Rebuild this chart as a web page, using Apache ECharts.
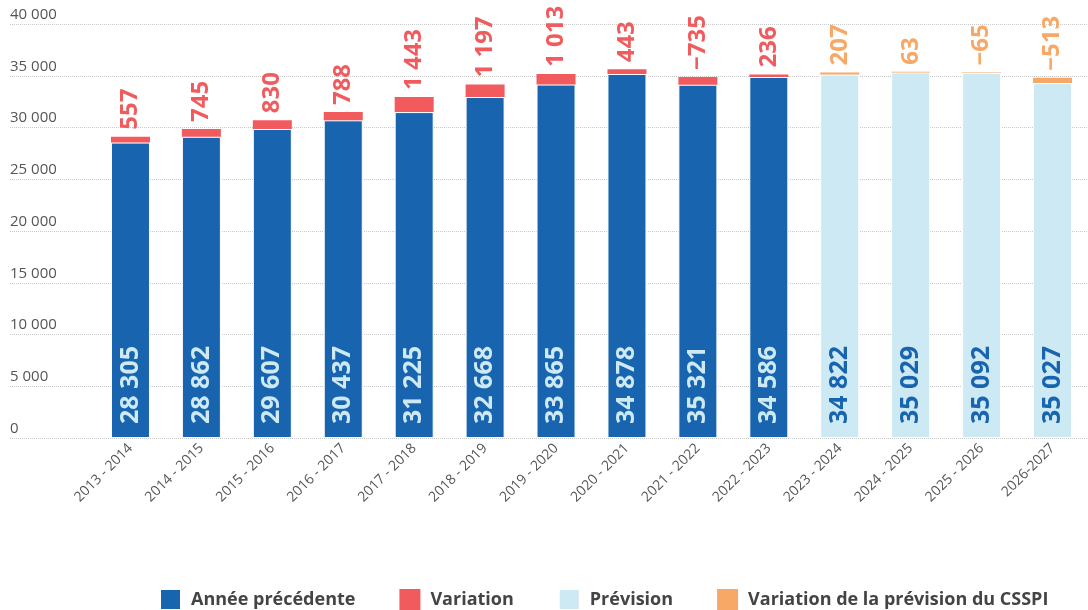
<!DOCTYPE html>
<html>
<head>
<meta charset="utf-8">
<script src="https://cdn.jsdelivr.net/npm/echarts@6/dist/echarts.min.js"></script>
<style>
html,body{margin:0;padding:0;background:#fff;}
#chart{width:1088px;height:610px;}
</style>
</head>
<body>
<div id="chart"></div>
<script>
var categories = ['2013 - 2014','2014 - 2015','2015 - 2016','2016 - 2017','2017 - 2018','2018 - 2019','2019 - 2020','2020 - 2021','2021 - 2022','2022 - 2023','2023 - 2024','2024 - 2025','2025 - 2026','2026-2027'];
var previousYear = [28305, 28862, 29607, 30437, 31225, 32668, 33865, 34878, 35321, 34586, 34822, 35029, 35092, 35027];
var variation = [557, 745, 830, 788, 1443, 1197, 1013, 443, -735, 236, 207, 63, -65, -513];
var isForecast = [false,false,false,false,false,false,false,false,false,false,true,true,true,true];
var yTicks = [0, 5000, 10000, 15000, 20000, 25000, 30000, 35000, 40000];

var C_DARK = '#1864af', C_RED = '#f15b5e', C_LIGHT = '#cce9f4', C_ORANGE = '#f7a867';
var BOLD_FONT = "'Open Sans', sans-serif";
var REG_FONT = "'Open Sans', sans-serif";

function fmt(v){
  var s = String(Math.abs(v)).replace(/\B(?=(\d{3})+(?!\d))/g, ' ');
  return (v < 0 ? '\u2212' : '') + s;
}

// drawn heights: top of bar = new value, variation segment = |variation|
var baseHist = [], varHist = [], baseFc = [], varFc = [];
for (var i = 0; i < categories.length; i++) {
  var nv = previousYear[i] + variation[i];
  var b = nv - Math.abs(variation[i]);
  var v = Math.abs(variation[i]);
  if (isForecast[i]) { baseHist.push('-'); varHist.push('-'); baseFc.push(b); varFc.push(v); }
  else { baseHist.push(b); varHist.push(v); baseFc.push('-'); varFc.push('-'); }
}

var insideLabel = function(color){
  return {
    show: true, position: 'insideBottom', rotate: 90, align: 'left', verticalAlign: 'middle',
    distance: 14, color: color, fontFamily: BOLD_FONT, fontWeight: 'bold', fontSize: 25,
    formatter: function(p){ return fmt(previousYear[p.dataIndex]); }
  };
};
var topLabel = function(color){
  return {
    show: true, position: 'top', rotate: 90, align: 'left', verticalAlign: 'middle',
    distance: 7, color: color, fontFamily: BOLD_FONT, fontWeight: 'bold', fontSize: 24,
    formatter: function(p){ return fmt(variation[p.dataIndex]); }
  };
};

var chart = echarts.init(document.getElementById('chart'), null, {renderer: 'canvas'});
chart.setOption({
  animation: false,
  backgroundColor: '#fff',
  grid: [
    {left: 10, right: 0, top: 24, bottom: 172},
    {left: 95, width: 999, top: 20.5, bottom: 172}
  ],
  xAxis: [
    {gridIndex: 0, type: 'value', show: false, min: 0, max: 1},
    {gridIndex: 1, type: 'category', data: categories,
     axisLine: {show: false}, axisTick: {show: false},
     axisLabel: {rotate: 45, margin: 8, fontSize: 14, color: '#555', fontFamily: REG_FONT, interval: 0}}
  ],
  yAxis: [
    {gridIndex: 0, type: 'value', min: 0, max: 40000, interval: 5000,
     axisLine: {show: false}, axisTick: {show: false},
     splitLine: {show: true, lineStyle: {type: 'dotted', color: '#c8c8c8', width: 1}},
     axisLabel: {inside: true, margin: 0, align: 'left', verticalAlign: 'bottom', padding: [0,0,2,0],
       fontSize: 15, color: '#555', fontFamily: REG_FONT,
       formatter: function(v){ return yTicks.indexOf(v) >= 0 ? fmt(v) : ''; }}},
    {gridIndex: 1, type: 'value', min: 0, max: 40000, interval: 5000, show: false,
     splitLine: {show: false}}
  ],
  legend: {
    left: 159, top: 588, padding: 0, itemWidth: 21, itemHeight: 21, itemGap: 44, icon: 'rect',
    textStyle: {fontSize: 18, fontWeight: 'bold', color: '#444', fontFamily: BOLD_FONT, padding: [0,0,0,5]},
    data: ['Année précédente', 'Variation', 'Prévision', 'Variation de la prévision du CSSPI']
  },
  series: [
    {name: 'Année précédente', type: 'bar', xAxisIndex: 1, yAxisIndex: 1, stack: 's', barWidth: '55%',
     data: baseHist, itemStyle: {color: C_DARK, borderColor: '#fff', borderWidth: 1}, label: insideLabel(C_LIGHT)},
    {name: 'Variation', type: 'bar', xAxisIndex: 1, yAxisIndex: 1, stack: 's', barWidth: '55%',
     data: varHist, itemStyle: {color: C_RED}, label: topLabel(C_RED)},
    {name: 'Prévision', type: 'bar', xAxisIndex: 1, yAxisIndex: 1, stack: 's', barWidth: '55%',
     data: baseFc, itemStyle: {color: C_LIGHT, borderColor: '#fff', borderWidth: 1}, label: insideLabel(C_DARK)},
    {name: 'Variation de la prévision du CSSPI', type: 'bar', xAxisIndex: 1, yAxisIndex: 1, stack: 's', barWidth: '55%',
     data: varFc, itemStyle: {color: C_ORANGE}, label: topLabel(C_ORANGE)}
  ]
});
</script>
</body>
</html>
